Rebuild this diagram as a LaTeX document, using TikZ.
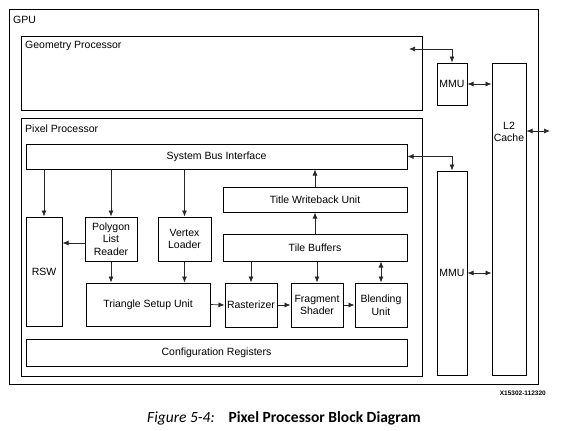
\documentclass[tikz,border=0pt]{standalone}
\usepackage{fontspec}
\setmainfont{Liberation Sans}
\newfontfamily\capfont{Carlito}
\usepackage{tikz}
\usetikzlibrary{arrows.meta,positioning,calc}
\definecolor{gpuline}{RGB}{0,0,0}
\definecolor{gpuarrow}{RGB}{40,40,40}

\begin{document}
\begin{tikzpicture}[x=1pt, y=-1pt,
    every node/.style={font=\fontsize{10.5}{12.5}\selectfont, text=black},
    blk/.style={draw=gpuline, line width=1pt, inner sep=0pt, align=center},
    lbl/.style={anchor=west, inner sep=0pt},
    arr/.style={-{Latex[length=6pt,width=5pt]}, line width=0.7pt, gpuarrow},
    dbl/.style={{Latex[length=6pt,width=5pt]}-{Latex[length=6pt,width=5pt]}, line width=0.7pt, gpuarrow}]
    \useasboundingbox (0,0) rectangle (576,431);

    % GPU frame
    \node[blk, minimum width=529pt, minimum height=375pt] (gpu) at (273.5,196.5) {};
    \node[lbl] (gpulbl) at (13,20) {GPU};

    % Geometry processor and its MMU
    \node[blk, minimum width=401pt, minimum height=74pt] (geom) at (221.5,73) {};
    \node[lbl] (geomlbl) at (25,46) {Geometry Processor};
    \node[blk, minimum width=30pt, minimum height=42pt] (mmua) at (452,84) {MMU};

    % L2 cache
    \node[blk, minimum width=34pt, minimum height=312pt] (ltwo) at (509,219) {};
    \node[align=center, inner sep=0pt] (ltwolbl) at (509,132) {L2\\Cache};

    % Pixel processor
    \node[blk, minimum width=401pt, minimum height=258pt] (pix) at (221.5,247) {};
    \node[lbl] (pixlbl) at (25,129) {Pixel Processor};
    \node[blk, minimum width=30pt, minimum height=204pt] (mmub) at (452,273) {MMU};

    \node[blk, minimum width=381pt, minimum height=25pt] (sbi) at (216.5,156.5) {System Bus Interface};
    \node[blk, minimum width=184pt, minimum height=25pt] (twu) at (315,199.5) {Title Writeback Unit};
    \node[blk, minimum width=184pt, minimum height=27pt] (tbuf) at (315,247.5) {Tile Buffers};

    \node[blk, minimum width=36pt, minimum height=109pt] (rsw) at (44,271.5) {RSW};
    \node[blk, minimum width=52pt, minimum height=44pt] (plr) at (111,239) {Polygon\\List\\Reader};
    \node[blk, minimum width=53pt, minimum height=44pt] (vl) at (184.5,239) {Vertex\\Loader};

    \node[blk, minimum width=124pt, minimum height=43pt] (tsu) at (148,304.5) {Triangle Setup Unit};
    \node[blk, minimum width=52pt, minimum height=44pt] (ras) at (251,305) {Rasterizer};
    \node[blk, minimum width=52pt, minimum height=44pt] (frag) at (317,305) {Fragment\\Shader};
    \node[blk, minimum width=52pt, minimum height=44pt] (blend) at (381,305) {Blending\\Unit};

    \node[blk, minimum width=381pt, minimum height=27pt] (cfg) at (216.5,352.5) {Configuration Registers};

    % memory side connections
    \coordinate (geomport) at (409,49);
    \coordinate (extport) at (550,131);
    \draw[dbl] (geomport) -| (mmua.north);
    \draw[dbl] (mmua.east) -- (mmua.east -| ltwo.west);
    \draw[dbl] (ltwo.east |- extport) -- (extport);
    \draw[dbl] (sbi.east) -| (mmub.north);
    \draw[dbl] (mmub.east) -- (mmub.east -| ltwo.west);

    % bus to units
    \draw[arr] (rsw.north |- sbi.south) -- (rsw.north);
    \draw[arr] (plr.north |- sbi.south) -- (plr.north);
    \draw[arr] (vl.north |- sbi.south) -- (vl.north);
    \draw[arr] ($(plr.west)+(0,4)$) -- ($(plr.west -| rsw.east)+(0,4)$);
    \draw[arr] (plr.south) -- (plr.south |- tsu.north);
    \draw[arr] (vl.south) -- (vl.south |- tsu.north);

    % pipeline
    \draw[arr] (tsu.east) -- (ras.west);
    \draw[arr] (ras.east) -- (frag.west);
    \draw[arr] (frag.east) -- (blend.west);
    \draw[arr] (ras.north |- tbuf.south) -- (ras.north);
    \draw[arr] (frag.north |- tbuf.south) -- (frag.north);
    \draw[dbl] (blend.north |- tbuf.south) -- (blend.north);
    \draw[arr] (tbuf.north) -- (twu.south);
    \draw[arr] (twu.north) -- (twu.north |- sbi.south);

    % figure id and caption
    \node[anchor=east, inner sep=0pt, font=\fontsize{6.5}{7}\selectfont\bfseries] (figid) at (546,393) {X15302-112320};
    \node[inner sep=0pt, font=\capfont\fontsize{15.5}{17}\selectfont] (caption) at (284,418)
        {\textit{Figure 5-4:}\hspace{14pt}\textbf{Pixel Processor Block Diagram}};
\end{tikzpicture}
\end{document}
